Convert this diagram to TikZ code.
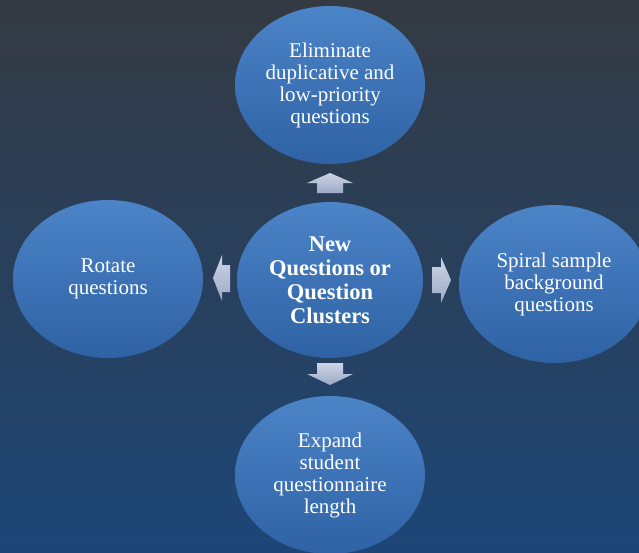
\documentclass[tikz,border=0pt]{standalone}
\usepackage{fontspec}
\setmainfont{Liberation Serif}
\usetikzlibrary{shapes.geometric}
\definecolor{bgtop}{HTML}{343A42}
\definecolor{bgbottom}{HTML}{1D4677}
\definecolor{balltop}{HTML}{4C84C8}
\definecolor{ballbottom}{HTML}{2E62A4}
\definecolor{arrtop}{HTML}{CDD4E6}
\definecolor{arrbottom}{HTML}{9CA9C7}

\begin{document}
\begin{tikzpicture}[x=1pt,y=1pt,
  every node/.style={font=\fontsize{21}{22}\selectfont},
  topic/.style={ellipse,minimum width=190pt,minimum height=158pt,inner sep=0pt,
    top color=balltop,bottom color=ballbottom,text=white,align=center},
  hub/.style={topic,minimum width=186pt,minimum height=156pt,
    font=\fontsize{22.5}{24}\selectfont\bfseries},
  flow/.style={top color=arrtop,bottom color=arrbottom}]
  \shade[top color=bgtop,bottom color=bgbottom] (0,0) rectangle (639,-552);
  \useasboundingbox (0,0) rectangle (639,-552);
  \node[hub] (new) at (330,-280) {New\\Questions or\\Question\\Clusters};
  \node[topic] (elim) at (330,-85) {Eliminate\\duplicative and\\low-priority\\questions};
  \node[topic] (rot) at (108,-279) {Rotate\\questions};
  \node[topic] (spiral) at (554,-284) {Spiral sample\\background\\questions};
  \node[topic] (expand) at (330,-475) {Expand\\student\\questionnaire\\length};
  % block arrows between the hub and the outer topics
  \shade[flow] (317,-193) -- (317,-183) -- (307,-183) -- (330,-173)
    -- (353,-183) -- (343,-183) -- (343,-193) -- cycle;
  \shade[flow] (230,-265) -- (222,-265) -- (222,-255) -- (213,-278)
    -- (222,-301) -- (222,-292) -- (230,-292) -- cycle;
  \shade[flow] (432,-267) -- (441,-267) -- (441,-257) -- (451,-280)
    -- (441,-303) -- (441,-293) -- (432,-293) -- cycle;
  \shade[flow] (317,-363) -- (317,-374) -- (307,-374) -- (330,-385)
    -- (353,-374) -- (343,-374) -- (343,-363) -- cycle;
\end{tikzpicture}
\end{document}
